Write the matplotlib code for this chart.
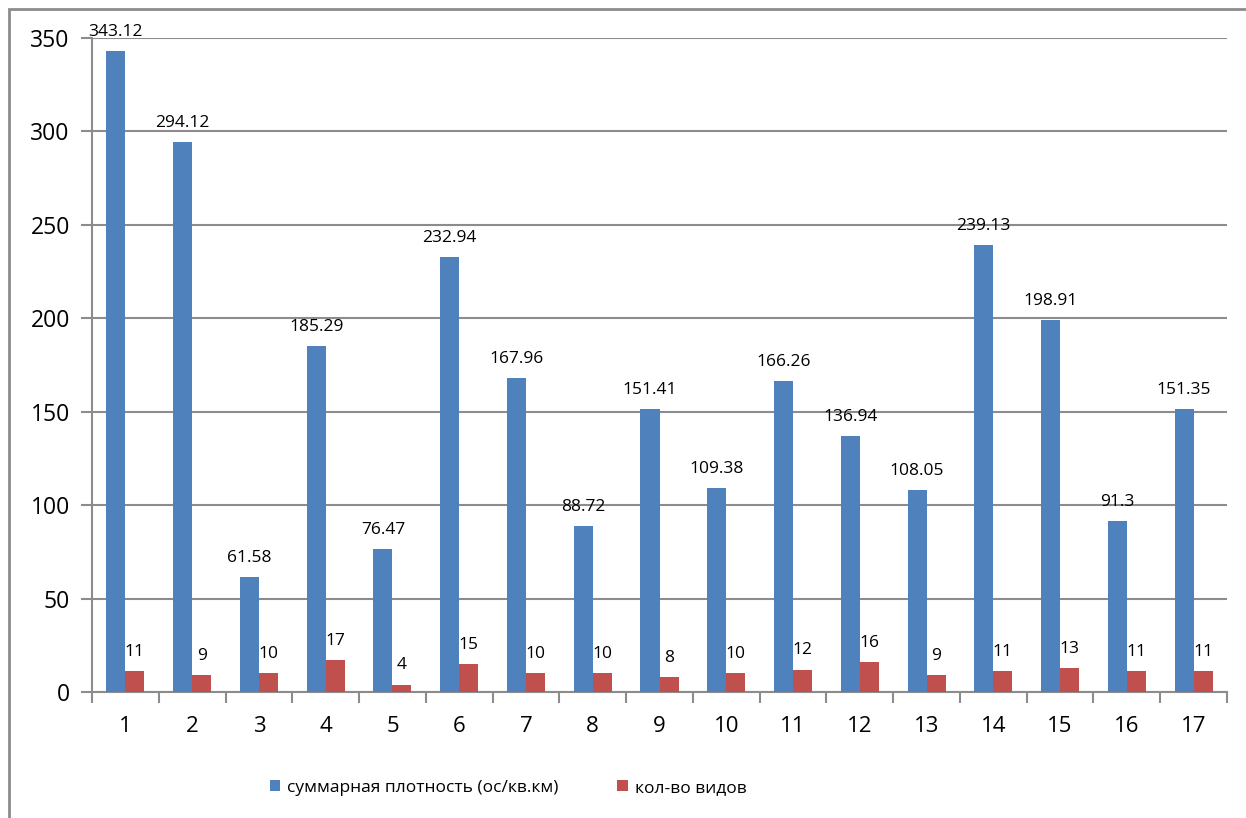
import numpy as np
import matplotlib
matplotlib.use("Agg")
import matplotlib.pyplot as plt
from matplotlib.patches import Rectangle

categories = [str(i) for i in range(1, 18)]
density = [343.12, 294.12, 61.58, 185.29, 76.47, 232.94, 167.96, 88.72, 151.41,
           109.38, 166.26, 136.94, 108.05, 239.13, 198.91, 91.3, 151.35]
species = [11, 9, 10, 17, 4, 15, 10, 10, 8, 10, 12, 16, 9, 11, 13, 11, 11]
density_labels = ["343.12", "294.12", "61.58", "185.29", "76.47", "232.94", "167.96",
                  "88.72", "151.41", "109.38", "166.26", "136.94", "108.05", "239.13",
                  "198.91", "91.3", "151.35"]

plt.rcParams['font.family'] = ['Open Sans', 'DejaVu Sans']

W, H = 1246, 818
fig = plt.figure(figsize=(W / 100, H / 100), dpi=100)
ax = fig.add_axes([92 / W, 1 - 692 / H, (1227 - 92) / W, (692 - 38) / H])

blue = "#4F81BD"
red = "#C0504D"
grid = "#8C8C8C"

x = np.arange(len(categories))
bw = 0.285
b1 = ax.bar(x - bw / 2, density, bw, color=blue, label="суммарная плотность (ос/кв.км)", zorder=3)
b2 = ax.bar(x + bw / 2, species, bw, color=red, label="кол-во видов", zorder=3)

for rect, lab in zip(b1, density_labels):
    ax.annotate(lab, (rect.get_x() + rect.get_width() / 2, rect.get_height()),
                xytext=(0, 8), textcoords="offset points", ha="center", va="bottom",
                fontsize=12.5, zorder=4)
for rect, v in zip(b2, species):
    ax.annotate(str(v), (rect.get_x() + rect.get_width() / 2, rect.get_height()),
                xytext=(0, 8), textcoords="offset points", ha="center", va="bottom",
                fontsize=12.5, zorder=4)

ax.set_xlim(-0.5, len(categories) - 0.5)
ax.set_ylim(0, 350)
ax.set_yticks(range(0, 351, 50))
ax.yaxis.grid(True, color=grid, linewidth=1.5, zorder=0)
ax.set_axisbelow(True)

ax.set_xticks(x)
ax.set_xticklabels(categories, fontsize=16)
ax.set_xticks(np.arange(-0.5, len(categories), 1), minor=True)
ax.tick_params(axis="x", which="major", length=0, pad=17)
ax.tick_params(axis="x", which="minor", length=8, width=1.5, color=grid, direction="out")
ax.tick_params(axis="y", length=8, width=1.5, color=grid, labelsize=16.5, pad=8)

for s in ["top", "right"]:
    ax.spines[s].set_visible(False)
for s in ["left", "bottom"]:
    ax.spines[s].set_color(grid)
    ax.spines[s].set_linewidth(1.5)

ax.legend(loc="center", bbox_to_anchor=(508 / W, 1 - 788 / H), bbox_transform=fig.transFigure,
          ncol=2, frameon=False, fontsize=12.5, handlelength=0.6, handleheight=0.6,
          handletextpad=0.4, columnspacing=3.4)

fig.patches.append(Rectangle((9 / W, -0.1), 1.2, 1 - 9 / H + 0.1, transform=fig.transFigure,
                             fill=False, edgecolor="#8C8C8C", linewidth=2))

fig.savefig("out.png", dpi=100)
